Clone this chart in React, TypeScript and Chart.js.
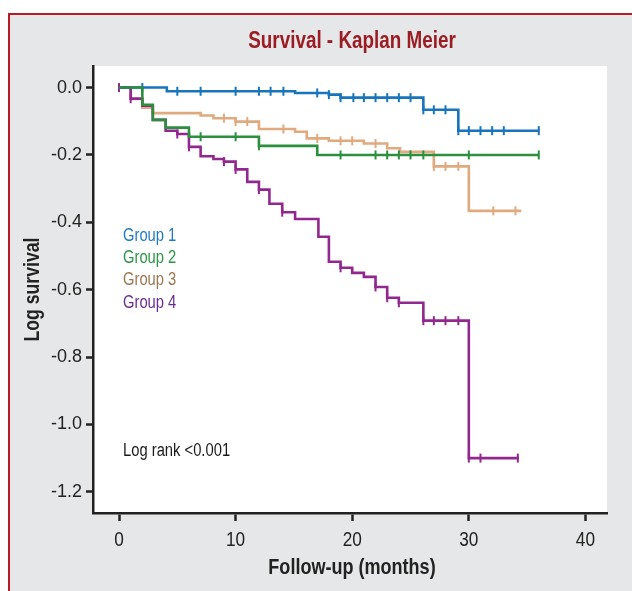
import React, { useEffect, useRef } from "react";
import { Chart, registerables } from "chart.js";

Chart.register(...registerables);

// ---------- data ----------
const groupNames = ["Group 1", "Group 2", "Group 3", "Group 4"];

const g1Times = [0, 4.1, 15.1, 18.0, 19.0, 26.1, 29.1, 36];
const g1Values = [0, -0.011, -0.016, -0.021, -0.03, -0.066, -0.128, -0.128];
const g1Censor = [2, 5, 7, 10, 12, 13, 14.1, 17, 18, 19, 20.1, 21, 22, 23, 24, 25, 26.1, 27, 28, 29.1, 30, 31, 32, 33, 36];

const g2Times = [0, 2.0, 2.9, 4.0, 6.0, 12.0, 17.0, 36];
const g2Values = [0, -0.051, -0.096, -0.119, -0.146, -0.173, -0.2, -0.2];
const g2Censor = [7, 10, 12, 19, 22, 23, 24, 25, 26.1, 30, 36];

const g3Times = [0, 1.0, 2.0, 2.9, 7.0, 8.1, 10.0, 12.0, 15.1, 16.1, 18.0, 21.0, 23.0, 24.1, 27.0, 30.0, 34.5];
const g3Values = [0, -0.034, -0.06, -0.076, -0.083, -0.091, -0.101, -0.123, -0.131, -0.151, -0.158, -0.166, -0.18, -0.191, -0.234, -0.366, -0.366];
const g3Censor = [9, 10, 11, 14.1, 17, 19, 20, 22, 27, 28, 29.1, 32.1, 34];

const g4Times = [0, 1.0, 2.0, 2.9, 4.0, 5.0, 6.0, 7.0, 8.1, 9.0, 10.0, 11.0, 12.0, 12.9, 14.0, 15.1, 17.1, 18.0, 19.0, 20.0, 21.0, 22.0, 23.0, 24.0, 26.1, 30.0, 34.3];
const g4Values = [0, -0.033, -0.054, -0.096, -0.128, -0.138, -0.176, -0.204, -0.212, -0.22, -0.243, -0.28, -0.303, -0.345, -0.37, -0.39, -0.443, -0.517, -0.535, -0.55, -0.562, -0.592, -0.624, -0.639, -0.692, -1.1, -1.1];
const g4Censor = [0, 1, 5, 6, 9, 10, 12, 14, 19, 22, 23, 24, 26.1, 27, 28, 29.1, 30, 31, 34.2];

const xTicks = [0, 10, 20, 30, 40];
const yTicks = [0, -0.2, -0.4, -0.6, -0.8, -1.0, -1.2];

const titleText = "Survival - Kaplan Meier";
const xTitle = "Follow-up (months)";
const yTitle = "Log survival";
const noteText = "Log rank <0.001";

// ---------- styles ----------
const lineColors = ["#1874bb", "#2b8f3e", "#e0aa7e", "#92288f"];
const labelColors = ["#1f78c1", "#2a9645", "#9c7650", "#6a2c8f"];
const SANS = '"Liberation Sans", Arial, sans-serif';
const NARROW_X = 0.82; // horizontal squeeze to imitate a condensed face

function stepAt(times: number[], values: number[], t: number) {
  let v = values[0];
  for (let i = 0; i < times.length; i++) {
    if (times[i] <= t + 1e-9) v = values[i];
  }
  return v;
}

function narrowText(ctx: CanvasRenderingContext2D, text: string, x: number, y: number, font: string, color: string, align: CanvasTextAlign, rot = 0) {
  ctx.save();
  ctx.translate(x, y);
  if (rot) ctx.rotate(rot);
  ctx.scale(NARROW_X, 1);
  ctx.font = font;
  ctx.fillStyle = color;
  ctx.textAlign = align;
  ctx.textBaseline = "middle";
  ctx.fillText(text, 0, 0);
  ctx.restore();
}

const groups = [
  { times: g1Times, values: g1Values, censor: g1Censor },
  { times: g2Times, values: g2Values, censor: g2Censor },
  { times: g3Times, values: g3Values, censor: g3Censor },
  { times: g4Times, values: g4Values, censor: g4Censor },
];
// drawing priority (lower = on top)
const drawOrder = [2, 1, 4, 3];

export default function App() {
  const ref = useRef<HTMLCanvasElement | null>(null);

  useEffect(() => {
    if (!ref.current) return;
    const datasets: any[] = [];
    groups.forEach((g, i) => {
      datasets.push({
        label: groupNames[i],
        data: g.times.map((t, k) => ({ x: t, y: g.values[k] })),
        borderColor: lineColors[i],
        backgroundColor: lineColors[i],
        borderWidth: 2.6,
        stepped: "before",
        pointRadius: 0,
        fill: false,
        order: drawOrder[i],
      });
      datasets.push({
        label: groupNames[i] + " censored",
        data: g.censor.map((t) => ({ x: t, y: stepAt(g.times, g.values, t) })),
        showLine: false,
        borderColor: lineColors[i],
        backgroundColor: lineColors[i],
        pointStyle: "line",
        rotation: 90,
        pointRadius: 4.5,
        borderWidth: 2,
        order: drawOrder[i],
      });
    });

    const bgPlugin = {
      id: "plotBg",
      beforeDraw(chart: any) {
        const { ctx, chartArea: a } = chart;
        ctx.save();
        ctx.fillStyle = "#ffffff";
        ctx.fillRect(a.left, a.top, a.right - a.left, a.bottom - a.top);
        ctx.restore();
      },
    };

    const textPlugin = {
      id: "texts",
      afterDraw(chart: any) {
        const { ctx, chartArea: a, scales } = chart;
        const cx = (a.left + a.right) / 2;
        narrowText(ctx, titleText, cx + 2, 42, "bold 23px " + SANS, "#9b1c23", "center");
        const legendY = [236, 258, 280.5, 303];
        groupNames.forEach((n, i) => {
          narrowText(ctx, n, 123, legendY[i], "18px " + SANS, labelColors[i], "left");
        });
        narrowText(ctx, noteText, 123, 451, "18px " + SANS, "#1a1a1a", "left");
        xTicks.forEach((v) => {
          narrowText(ctx, String(v), scales.x.getPixelForValue(v), 540, "21px " + SANS, "#222", "center");
        });
        narrowText(ctx, xTitle, cx + 2, 568, "bold 22px " + SANS, "#222", "center");
        narrowText(ctx, yTitle, 33.5, (a.top + a.bottom) / 2, "bold 21.5px " + SANS, "#222", "center", -Math.PI / 2);
      },
    };

    const chart = new Chart(ref.current, {
      type: "line",
      data: { datasets },
      options: {
        responsive: false,
        animation: false,
        devicePixelRatio: 1,
        layout: { padding: { left: 22, right: 25, top: 66, bottom: 0 } },
        plugins: {
          legend: { display: false },
          tooltip: { enabled: false },
          title: { display: false },
        },
        scales: {
          x: {
            type: "linear",
            min: -2.23,
            max: 41.85,
            afterBuildTicks: (scale: any) => {
              scale.ticks = xTicks.map((v) => ({ value: v }));
            },
            afterFit: (scale: any) => {
              scale.height = 78;
            },
            grid: {
              drawOnChartArea: false,
              drawTicks: true,
              tickLength: 8,
              tickWidth: 2.5,
              tickColor: "#222",
            },
            border: { display: true, color: "#222", width: 2.5 },
            ticks: { display: false },
          },
          y: {
            type: "linear",
            min: -1.263,
            max: 0.064,
            afterBuildTicks: (scale: any) => {
              scale.ticks = yTicks.map((v) => ({ value: v }));
            },
            afterFit: (scale: any) => {
              scale.width = 71;
            },
            grid: {
              drawOnChartArea: false,
              drawTicks: true,
              tickLength: 7,
              tickWidth: 2.5,
              tickColor: "#222",
            },
            border: { display: true, color: "#222", width: 2.5 },
            ticks: {
              color: "#222",
              padding: 4,
              font: { family: SANS, size: 18 },
              callback: (v: any) => Number(v).toFixed(1),
            },
          },
        },
      },
      plugins: [bgPlugin, textPlugin],
    } as any);

    return () => chart.destroy();
  }, []);

  return (
    <>
      <div
        style={{
          position: "fixed",
          left: 8,
          top: 13,
          right: 0,
          bottom: 0,
          background: "#e6e7e8",
          borderTop: "2px solid #b71c24",
          borderLeft: "2px solid #b71c24",
        }}
      />
      <canvas
        ref={ref}
        width={632}
        height={591}
        style={{ position: "fixed", left: 0, top: 0, width: 632, height: 591, zIndex: 1 }}
      />
    </>
  );
}
